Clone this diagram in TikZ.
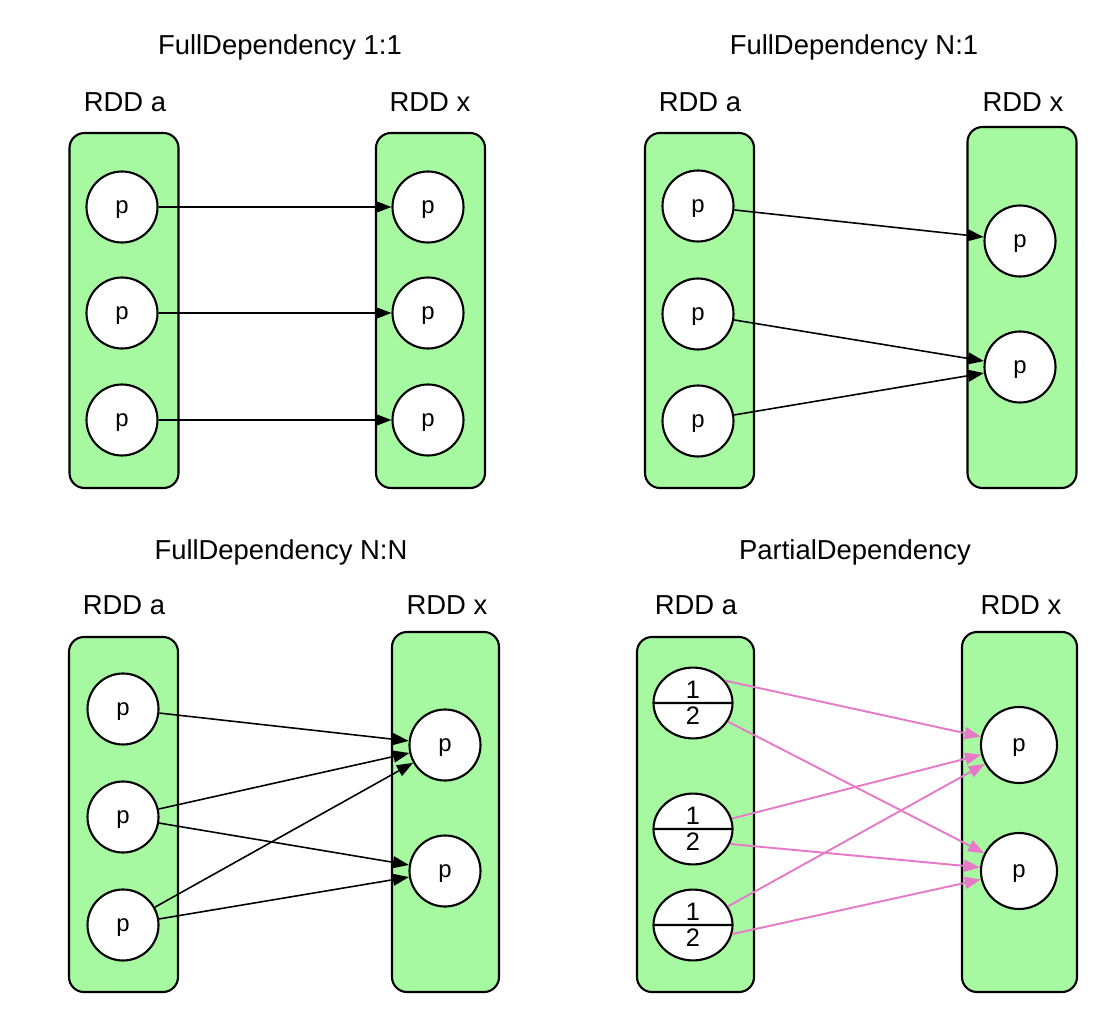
\documentclass[tikz,border=0pt]{standalone}
\usepackage{fontspec}
\setmainfont{Liberation Sans}
\usetikzlibrary{arrows.meta,shapes.multipart,shapes.geometric}
\definecolor{rddgreen}{RGB}{166,249,160}
\definecolor{partpink}{RGB}{230,122,200}
\tikzstyle{rdd} = [draw, fill=rddgreen, rounded corners=1.5mm, minimum width=10.9mm, line width=0.6pt]
\tikzstyle{part} = [circle, draw, fill=white, minimum size=7.1mm, inner sep=0pt, text depth=0pt, line width=0.6pt, font=\fontsize{6.8}{7}\selectfont]
\tikzstyle{halves} = [ellipse split, draw, fill=white, minimum width=7.9mm, minimum height=7mm, inner sep=0.9pt, line width=0.6pt, font=\fontsize{7.2}{8}\selectfont]
\tikzstyle{title} = [font=\fontsize{7.8}{9}\selectfont]
\tikzstyle{dep} = [->, >={Triangle[length=4.6pt,width=3.4pt]}, line width=0.45pt]
\tikzstyle{pdep} = [dep, partpink, line width=0.55pt]

\begin{document}
\begin{tikzpicture}[x=0.1mm,y=-0.1mm]
\useasboundingbox (0,0) rectangle (1110,1015);
% FullDependency 1:1
\node[title] (t1) at (280,47) {FullDependency 1:1};
\node[title] (t1a) at (125,102) {RDD a};
\node[title] (t1x) at (430,102) {RDD x};
\node[rdd, minimum height=35.5mm] (r1a) at (124,310.5) {};
\node[rdd, minimum height=35.5mm] (r1x) at (430.5,310.5) {};
\node[part] (a11) at (122,207) {p};
\node[part] (a12) at (122,313) {p};
\node[part] (a13) at (122,420) {p};
\node[part] (x11) at (428,207) {p};
\node[part] (x12) at (428,313) {p};
\node[part] (x13) at (428,420) {p};
\draw[dep] (a11)--(x11);
\draw[dep] (a12)--(x12);
\draw[dep] (a13)--(x13);
% FullDependency N:1
\node[title] (t2) at (854,47) {FullDependency N:1};
\node[title] (t2a) at (700,102) {RDD a};
\node[title] (t2x) at (1023,102) {RDD x};
\node[rdd, minimum height=35.5mm] (r2a) at (699.5,310.5) {};
\node[rdd, minimum height=36.1mm] (r2x) at (1022,307.5) {};
\node[part] (a21) at (698,206) {p};
\node[part] (a22) at (698,314) {p};
\node[part] (a23) at (698,421) {p};
\node[part] (x21) at (1020,241) {p};
\node[part] (x22) at (1020,367) {p};
\draw[dep] (a21)--(x21);
\draw[dep] (a22)--(x22);
\draw[dep] (a23)--(x22);
% FullDependency N:N
\node[title] (t3) at (281,552) {FullDependency N:N};
\node[title] (t3a) at (124,605) {RDD a};
\node[title] (t3x) at (447,605) {RDD x};
\node[rdd, minimum height=35.5mm] (r3a) at (123.5,814.5) {};
\node[rdd, minimum height=36mm, minimum width=10.7mm] (r3x) at (445.5,812) {};
\node[part] (a31) at (123,709) {p};
\node[part] (a32) at (123,817) {p};
\node[part] (a33) at (123,925) {p};
\node[part] (x31) at (445,745) {p};
\node[part] (x32) at (445,871) {p};
\draw[dep] (a31)--(x31);
\draw[dep] (a32)--(x31);
\draw[dep] (a32)--(x32);
\draw[dep] (a33)--(x31);
\draw[dep] (a33)--(x32);
% PartialDependency
\node[title] (t4) at (855,552) {PartialDependency};
\node[title] (t4a) at (696,605) {RDD a};
\node[title] (t4x) at (1021,605) {RDD x};
\node[rdd, minimum height=35.5mm, minimum width=11.7mm] (r4a) at (695.5,814.5) {};
\node[rdd, minimum height=36mm, minimum width=11.5mm] (r4x) at (1019.5,812) {};
\node[halves] (a41) at (693,703) {1 \nodepart{lower} 2};
\node[halves] (a42) at (693,829) {1 \nodepart{lower} 2};
\node[halves] (a43) at (693,925) {1 \nodepart{lower} 2};
\node[part, minimum size=7.6mm] (x41) at (1019,745) {p};
\node[part, minimum size=7.6mm] (x42) at (1019,871) {p};
\draw[pdep] (a41.35)--(x41);
\draw[pdep] (a41.-28)--(x42);
\draw[pdep] (a42.15)--(x41);
\draw[pdep] (a42.-22)--(x42);
\draw[pdep] (a43.28)--(x41);
\draw[pdep] (a43.-13)--(x42);
\end{tikzpicture}
\end{document}
